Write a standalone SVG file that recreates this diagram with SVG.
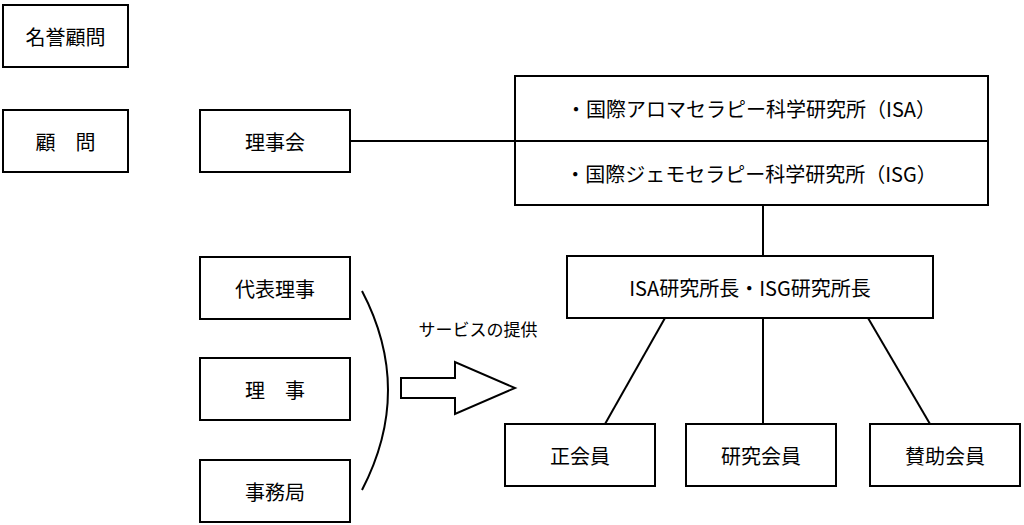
<svg xmlns="http://www.w3.org/2000/svg" width="1024" height="525" viewBox="0 0 1024 525">
<style>
rect{fill:#fff;stroke:#000;stroke-width:2}
line,path{stroke:#000;stroke-width:2;fill:none}
text{font-family:"Noto Sans CJK JP","Noto Sans",sans-serif;font-size:20px;text-anchor:middle;dominant-baseline:central;fill:#000}
</style>
<rect width="1024" height="525" style="stroke:none"/>
<g id="connectors">
<line x1="350" y1="141" x2="515" y2="141"/>
<line x1="763" y1="205" x2="763" y2="256"/>
<line x1="665" y1="318" x2="605" y2="424"/>
<line x1="763" y1="318" x2="763" y2="424"/>
<line x1="868" y1="318" x2="930" y2="424"/>
<path d="M362,291 Q414,390 362,490"/>
<path d="M401,378 H455 V362 L515,388 L455,414 V398 H401 Z"/>
</g>
<g id="meiyo"><rect x="3" y="5" width="125" height="62"/><text x="65.5" y="36">名誉顧問</text></g>
<g id="komon"><rect x="3" y="110" width="125" height="62"/><text x="65.5" y="141">顧　問</text></g>
<g id="rijikai"><rect x="200" y="110" width="150" height="62"/><text x="275" y="141">理事会</text></g>
<g id="institutes"><rect x="515" y="76" width="473" height="129"/><line x1="515" y1="141" x2="988" y2="141"/>
<text x="751" y="108">・国際アロマセラピー科学研究所（ISA）</text>
<text x="751" y="173">・国際ジェモセラピー科学研究所（ISG）</text></g>
<g id="directors"><rect x="567" y="256" width="366" height="62"/><text x="750" y="287">ISA研究所長・ISG研究所長</text></g>
<g id="sei"><rect x="505" y="424" width="150" height="62"/><text x="580" y="455">正会員</text></g>
<g id="kenkyu"><rect x="686" y="424" width="150" height="62"/><text x="761" y="455">研究会員</text></g>
<g id="sanjo"><rect x="870" y="424" width="150" height="62"/><text x="945" y="455">賛助会員</text></g>
<g id="daihyo"><rect x="200" y="257" width="150" height="62"/><text x="275" y="288">代表理事</text></g>
<g id="riji"><rect x="200" y="358" width="150" height="62"/><text x="275" y="389">理　事</text></g>
<g id="jimu"><rect x="200" y="460" width="150" height="62"/><text x="275" y="491">事務局</text></g>
<text x="478" y="328" style="font-size:17px">サービスの提供</text>
</svg>
